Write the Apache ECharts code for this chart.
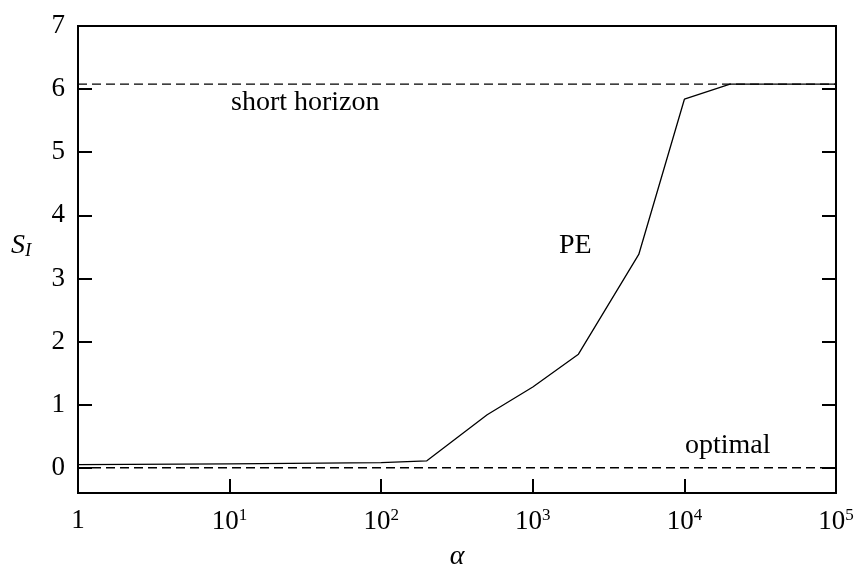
<!DOCTYPE html>
<html><head><meta charset="utf-8">
<script src="https://cdn.jsdelivr.net/npm/echarts@6/dist/echarts.min.js"></script>
<style>html,body{margin:0;padding:0;background:#fff}#c{width:857px;height:568px}</style>
</head><body><div id="c"></div>
<script>
// PE curve: alpha values and S_I values
const alphaVals = [1, 10, 100, 200, 500, 1000, 2000, 5000, 10000, 20000, 50000, 100000];
const peVals    = [0.05, 0.06, 0.08, 0.11, 0.84, 1.28, 1.80, 3.38, 5.84, 6.08, 6.08, 6.08];
// reference lines
const shortHorizon = 6.08;
const optimal = 0;
const yTicks = [0, 1, 2, 3, 4, 5, 6, 7];

const font = '"Liberation Serif", "Times New Roman", serif';
const chart = echarts.init(document.getElementById('c'), null, {renderer: 'canvas'});
chart.setOption({
  animation: false,
  backgroundColor: '#fff',
  grid: {left: 78, right: 21, top: 26, bottom: 75, show: true, borderColor: '#000', borderWidth: 2,
         containLabel: false, outerBoundsMode: 'none'},
  xAxis: {
    type: 'log', logBase: 10, min: 1, max: 100000,
    name: 'α', nameLocation: 'middle', nameGap: 50,
    nameTextStyle: {fontFamily: font, fontStyle: 'italic', fontSize: 28, color: '#000'},
    axisLine: {show: true, onZero: false, lineStyle: {color: '#000', width: 2}},
    axisTick: {show: true, inside: true, length: 14, lineStyle: {color: '#000', width: 2}},
    minorTick: {show: false},
    splitLine: {show: false},
    axisLabel: {
      margin: 14,
      formatter: function (v) {
        const e = Math.round(Math.log10(v));
        if (e === 0) return '{b|1}';
        return '{b|10}{s|' + e + '}';
      },
      rich: {
        b: {fontFamily: font, fontSize: 27, color: '#000'},
        s: {fontFamily: font, fontSize: 17, color: '#000', verticalAlign: 'bottom', padding: [0, 0, 12, 0]}
      }
    }
  },
  yAxis: [{
    type: 'value', min: -0.4, max: 7, splitNumber: 7,
    axisLine: {show: true, onZero: false, lineStyle: {color: '#000', width: 2}},
    axisTick: {show: true, inside: true, length: 14, lineStyle: {color: '#000', width: 2}},
    splitLine: {show: false},
    axisLabel: {margin: 13, fontFamily: font, fontSize: 27, color: '#000',
      formatter: function (v) { return yTicks.indexOf(v) >= 0 ? String(v) : ''; }}
  }, {
    type: 'value', min: -0.4, max: 7, splitNumber: 7, position: 'right',
    axisLine: {show: true, onZero: false, lineStyle: {color: '#000', width: 2}},
    axisTick: {show: true, inside: true, length: 14, lineStyle: {color: '#000', width: 2}},
    splitLine: {show: false},
    axisLabel: {show: false}
  }],
  series: [
    {type: 'line', name: 'short horizon', data: [[1, shortHorizon], [100000, shortHorizon]],
      symbol: 'none', lineStyle: {color: '#000', width: 1.3, type: [9, 5]}, silent: true},
    {type: 'line', name: 'optimal', data: [[1, optimal], [100000, optimal]],
      symbol: 'none', lineStyle: {color: '#000', width: 1.3, type: [9, 5]}, silent: true},
    {type: 'line', name: 'PE', data: alphaVals.map((a, i) => [a, peVals[i]]),
      symbol: 'none', lineStyle: {color: '#000', width: 1.3}, silent: true}
  ],
  graphic: [
    {type: 'text', left: 231, top: 89, style: {text: 'short horizon', font: '28px ' + font, fill: '#000'}},
    {type: 'text', left: 559, top: 232, style: {text: 'PE', font: '28px ' + font, fill: '#000'}},
    {type: 'text', left: 685, top: 432, style: {text: 'optimal', font: '28px ' + font, fill: '#000'}},
    {type: 'text', left: 11, top: 232, style: {
      text: '{a|S}{b|I}', rich: {
        a: {fontFamily: font, fontStyle: 'italic', fontSize: 28, fill: '#000'},
        b: {fontFamily: font, fontStyle: 'italic', fontSize: 19, fill: '#000', padding: [10, 0, 0, 0]}
      }}}
  ]
});
</script></body></html>
